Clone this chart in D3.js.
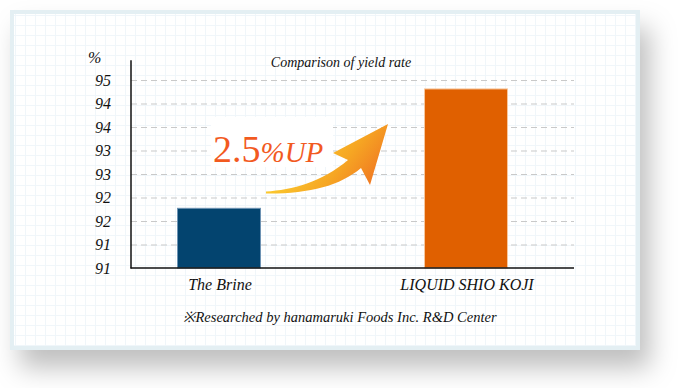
<!DOCTYPE html>
<html><head><meta charset="utf-8">
<script src="https://cdn.jsdelivr.net/npm/d3@7"></script>
<style>html,body{margin:0;padding:0;background:#fff;}svg{display:block;}</style>
</head><body>
<script>
const categories = ["The Brine", "LIQUID SHIO KOJI"];
const values = [92.27, 94.81];
const tickValues = [91, 91.5, 92, 92.5, 93, 93.5, 94, 94.5, 95];
const tickLabels = ["91", "91", "92", "92", "93", "93", "94", "94", "95"];
const colors = ["#03446f", "#e06000"];
const strokes = ["#6d93b3", "#f7c79e"];
const title = "Comparison of yield rate";
const note = "※Researched by hanamaruki Foods Inc. R&D Center";

const W = 678, H = 388;
const svg = d3.select("body").append("svg").attr("width", W).attr("height", H);
const defs = svg.append("defs");

const sh = defs.append("filter").attr("id", "shadow").attr("x", "-10%").attr("y", "-10%").attr("width", "130%").attr("height", "145%");
sh.append("feDropShadow").attr("dx", 10).attr("dy", 18).attr("stdDeviation", 13).attr("flood-color", "#000").attr("flood-opacity", 0.25);

const pat = defs.append("pattern").attr("id", "grid").attr("patternUnits", "userSpaceOnUse")
  .attr("x", 5).attr("y", 5).attr("width", 10).attr("height", 10);
pat.append("rect").attr("width", 10).attr("height", 10).attr("fill", "#fff");
pat.append("path").attr("d", "M0,0.5H10M0.5,0V10").attr("stroke", "#f0f6fa").attr("stroke-width", 1);

const grad = defs.append("linearGradient").attr("id", "arrowGrad").attr("gradientUnits", "userSpaceOnUse")
  .attr("x1", 300).attr("y1", 130).attr("x2", 378).attr("y2", 190);
grad.append("stop").attr("offset", "0%").attr("stop-color", "#fcd232");
grad.append("stop").attr("offset", "55%").attr("stop-color", "#f6a623");
grad.append("stop").attr("offset", "100%").attr("stop-color", "#ef6f22");

// card
svg.append("rect").attr("x", 10).attr("y", 10).attr("width", 630).attr("height", 340)
  .attr("fill", "#e4eff3").attr("filter", "url(#shadow)");
svg.append("rect").attr("x", 14).attr("y", 14).attr("width", 622).attr("height", 332).attr("fill", "url(#grid)");

const y = d3.scaleLinear().domain([91, 95]).range([268, 80]);
const x = d3.scaleBand().domain(categories).range([95.5, 589.5]).paddingInner(0.66).paddingOuter(0.33);
const xLeft = 131, xRight = 574;

const serif = "'Liberation Serif','Times New Roman',serif";

// gridlines
const gridG = svg.append("g").attr("transform", `translate(${xLeft},0)`)
  .call(d3.axisLeft(y).tickValues(tickValues.slice(1)).tickSize(-(xRight - xLeft)).tickFormat(""));
gridG.select(".domain").remove();
gridG.selectAll(".tick line").attr("stroke", "#c9c9c9").attr("stroke-dasharray", "6,4").attr("stroke-width", 1);

// white patch behind label
svg.append("rect").attr("x", 211).attr("y", 117).attr("width", 122).attr("height", 50).attr("fill", "#fff");

// bars
svg.selectAll("rect.bar").data(categories).enter().append("rect").attr("class", "bar")
  .attr("x", d => x(d) + 0.5).attr("width", x.bandwidth() - 1)
  .attr("y", (d, i) => y(values[i])).attr("height", (d, i) => y(91) - y(values[i]))
  .attr("fill", (d, i) => colors[i]).attr("stroke", (d, i) => strokes[i]).attr("stroke-width", 1);

// tick labels
const axG = svg.append("g").attr("transform", `translate(${xLeft - 20},0)`)
  .call(d3.axisLeft(y).tickValues(tickValues).tickSize(0).tickPadding(0).tickFormat((d, i) => tickLabels[i]));
axG.select(".domain").remove();
axG.selectAll("text").attr("font-family", serif).attr("font-style", "italic").attr("font-size", 16).attr("fill", "#111");
svg.append("text").attr("x", 88).attr("y", 63).attr("font-family", serif).attr("font-style", "italic")
  .attr("font-size", 16).attr("fill", "#111").text("%");

// axes lines
svg.append("line").attr("x1", xLeft).attr("x2", xLeft).attr("y1", y(95.42)).attr("y2", y(91) + 0.5)
  .attr("stroke", "#111").attr("stroke-width", 1.5);
svg.append("line").attr("x1", xLeft - 0.5).attr("x2", xRight).attr("y1", y(91)).attr("y2", y(91))
  .attr("stroke", "#111").attr("stroke-width", 1.6);

// category labels
svg.selectAll("text.cat").data(categories).enter().append("text").attr("class", "cat")
  .attr("x", d => x(d) + x.bandwidth() / 2 + 1).attr("y", 290).attr("text-anchor", "middle")
  .attr("font-family", serif).attr("font-style", "italic").attr("font-size", 16).attr("fill", "#111").text(d => d);

// title
svg.append("text").attr("x", 341).attr("y", 67).attr("text-anchor", "middle")
  .attr("font-family", serif).attr("font-style", "italic").attr("font-size", 14).attr("fill", "#111").text(title);

// note
svg.append("text").attr("x", 340).attr("y", 322).attr("text-anchor", "middle")
  .attr("font-family", serif).attr("font-style", "italic").attr("font-size", 14.5).attr("fill", "#111").text(note);

// arrow
svg.append("path")
  .attr("d", "M266,191.5 C292,190 322,182 348,160 L333,153 L388,124 L370,185 L361,168 C340,186 308,194 266,193.5 Z")
  .attr("fill", "url(#arrowGrad)");

// 2.5%UP label
const up = svg.append("text").attr("x", 213).attr("y", 162).attr("font-family", serif).attr("fill", "#f25a1f");
up.append("tspan").attr("font-size", 38).text("2.5");
up.append("tspan").attr("font-size", 29).attr("font-style", "italic").text("%UP");
</script>
</body></html>
